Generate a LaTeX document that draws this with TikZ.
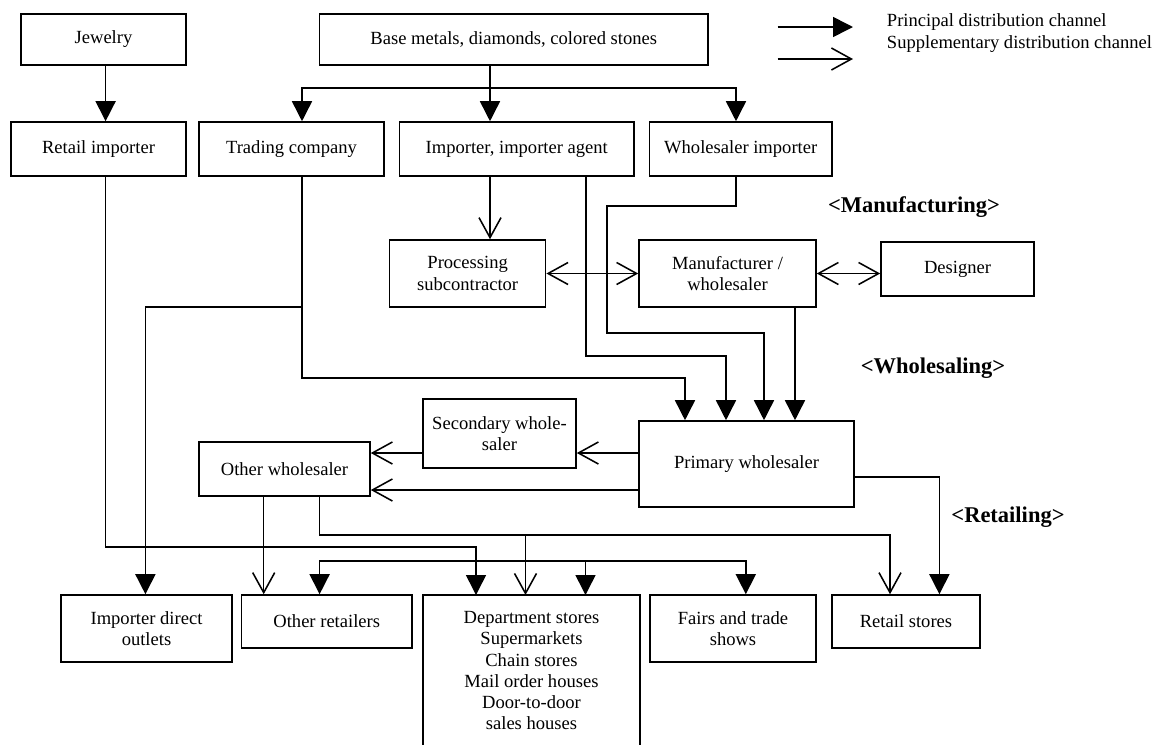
\documentclass[tikz,border=0pt]{standalone}
\usepackage{fontspec}
\setmainfont{Liberation Serif}
\usetikzlibrary{arrows.meta}

\begin{document}
\begin{tikzpicture}[x=0.025cm, y=-0.025cm, line width=1.1pt, font=\fontsize{13.2}{15.1}\selectfont,
    box/.style={draw, align=center, inner sep=2pt},
    pri/.style={-{Triangle[length=0.5cm,width=0.5cm]}},
    sup/.style={-{Straight Barb[length=0.5cm,width=0.55cm]}},
    both/.style={{Straight Barb[length=0.5cm,width=0.55cm]}-{Straight Barb[length=0.5cm,width=0.55cm]}},
    stage/.style={font=\fontsize{16}{19}\selectfont\bfseries}]
    \useasboundingbox (0,0) rectangle (1167,745);

    % suppliers and importers
    \node[box, minimum width=4.125cm, minimum height=1.275cm] (jewel) at (103.5,39.5) {Jewelry};
    \node[box, minimum width=9.71cm, minimum height=1.275cm] (base) at (513.75,39.5) {Base metals, diamonds, colored stones};
    \node[box, minimum width=4.375cm, minimum height=1.35cm] (retimp) at (98.5,149) {Retail importer};
    \node[box, minimum width=4.625cm, minimum height=1.35cm] (trade) at (291.5,149) {Trading company};
    \node[box, minimum width=5.86cm, minimum height=1.35cm] (imp) at (516.75,149) {Importer, importer agent};
    \node[box, minimum width=4.565cm, minimum height=1.35cm] (whimp) at (740.7,149) {Wholesaler importer};

    % manufacturing
    \node[box, minimum width=3.9cm, minimum height=1.675cm] (proc) at (467.65,273.5) {Processing\\subcontractor};
    \node[box, minimum width=4.425cm, minimum height=1.675cm] (manuf) at (727.5,273.5) {Manufacturer /\\wholesaler};
    \node[box, minimum width=3.825cm, minimum height=1.35cm] (design) at (957.5,269) {Designer};

    % wholesaling
    \node[box, minimum width=3.825cm, minimum height=1.725cm] (sec) at (499.5,433.5) {Secondary whole-\\saler};
    \node[box, minimum width=4.275cm, minimum height=1.35cm] (othw) at (284.5,469) {Other wholesaler};
    \node[box, minimum width=5.375cm, minimum height=2.15cm] (prim) at (746.5,464) {Primary wholesaler};

    % retailing
    \node[box, minimum width=4.275cm, minimum height=1.675cm] (impdir) at (146.5,628.5) {Importer direct\\outlets};
    \node[box, minimum width=4.26cm, minimum height=1.325cm] (othret) at (326.75,621.5) {Other retailers};
    \node[align=center, minimum width=5.375cm, minimum height=3.75cm, anchor=north] (dept) at (531.5,595)
        {Department stores\\Supermarkets\\Chain stores\\Mail order houses\\Door-to-door\\sales houses};
    \draw (dept.south west) -- (dept.north west) -- (dept.north east) -- (dept.south east);
    \node[box, minimum width=4.15cm, minimum height=1.675cm] (fairs) at (733,628.5) {Fairs and trade\\shows};
    \node[box, minimum width=3.7cm, minimum height=1.325cm] (retst) at (906,621.5) {Retail stores};

    % stage labels
    \node[stage] (lbman) at (914,207) {<Manufacturing>};
    \node[stage] (lbwhole) at (933,368) {<Wholesaling>};
    \node[stage] (lbret) at (1008,517) {<Retailing>};

    % legend
    \node[anchor=west] (lgpri) at (881.5,22) {Principal distribution channel};
    \node[anchor=west] (lgsup) at (881.5,44) {Supplementary distribution channel};
    \coordinate (lga) at (777.6,27);
    \coordinate (lgb) at (777.6,59);
    \draw[pri] (lga) -- ++(75.4,0);
    \draw[sup] (lgb) -- ++(75.4,0);

    % top level channels
    \draw[pri] (105.6,0 |- jewel.south) -- (105.6,0 |- retimp.north);
    \coordinate (split) at (490,88);
    \draw (base.south -| split) -- (split);
    \draw[pri] (split) -| (302,0 |- trade.north);
    \draw[pri] (split) -- (split |- imp.north);
    \draw[pri] (split) -| (736,0 |- whimp.north);

    % into manufacturing
    \draw[sup] (split |- imp.south) -- (split |- proc.north);
    \draw[both] (proc.east) -- (manuf.west);
    \draw[both] (manuf.east) -- (manuf.east -| design.west);

    % into primary wholesaler
    \draw[pri] (302,0 |- trade.south) |- (685,378) -- (685,0 |- prim.north);
    \draw[pri] (586,0 |- imp.south) |- (726,356) -- (726,0 |- prim.north);
    \draw[pri] (736,0 |- whimp.south) |- (607,206) |- (764,333) -- (764,0 |- prim.north);
    \draw[pri] (795,0 |- manuf.south) -- (795,0 |- prim.north);

    % wholesalers
    \draw[sup] (prim.west |- 0,453) -- (sec.east |- 0,453);
    \draw[sup] (sec.west |- 0,453) -- (othw.east |- 0,453);
    \draw[sup] (prim.west |- 0,490) -- (othw.east |- 0,490);

    % to retailers
    \coordinate (tsplit) at (302,307);
    \draw[pri] (tsplit) -| (145.4,0 |- impdir.north);
    \draw[pri] (105.6,0 |- retimp.south) |- (476,547) -- (476,0 |- dept.north);
    \draw[sup] (263.7,0 |- othw.south) -- (263.7,0 |- othret.north);
    \draw[sup] (319.6,0 |- othw.south) |- (890,535) -- (890,0 |- retst.north);
    \draw[sup] (525.5,535) -- (525.5,0 |- dept.north);
    \coordinate (dist) at (525.5,561);
    \draw[pri] (dist) -| (319.6,0 |- othret.north);
    \draw[pri] (dist) -| (745.8,0 |- fairs.north);
    \draw[pri] (585.5,561) -- (585.5,0 |- dept.north);
    \draw[pri] (prim.east |- 0,477) -| (939.4,0 |- retst.north);
\end{tikzpicture}
\end{document}
